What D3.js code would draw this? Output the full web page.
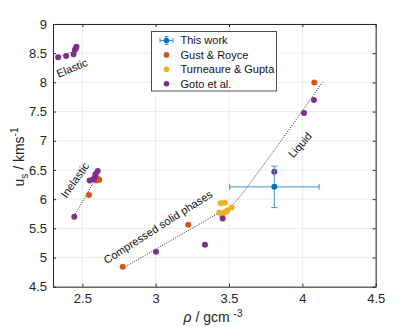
<!DOCTYPE html>
<html><head><meta charset="utf-8">
<script src="https://cdn.jsdelivr.net/npm/d3@7"></script>
<style>body{margin:0;background:#fff;} text{font-family:"Liberation Sans",Arial,sans-serif;}</style>
</head><body><svg id="c" width="415" height="327"></svg>
<script>
// Data
const xTicks = [2.5, 3, 3.5, 4, 4.5];
const yTicks = [4.5, 5, 5.5, 6, 6.5, 7, 7.5, 8, 8.5, 9];
const thisWork = [{rho: 3.809, us: 6.21, rhoErr: 0.305, usErr: 0.355}];
const gustRho = [2.545, 2.595, 2.615, 2.60, 2.775, 3.222, 4.081];
const gustUs  = [6.07, 6.32, 6.33, 6.36, 4.84, 5.56, 8.00];
const turnRho = [3.443, 3.472, 3.434, 3.461, 3.488, 3.518, 3.45, 3.475];
const turnUs  = [5.93, 5.94, 5.77, 5.76, 5.80, 5.855, 5.73, 5.78];
const gotoRho = [2.335, 2.39, 2.44, 2.45, 2.46, 2.455, 2.445, 2.55, 2.575, 2.585, 2.605, 2.59, 3.002, 3.336, 3.457, 3.809, 4.011, 4.079];
const gotoUs  = [8.43, 8.45, 8.48, 8.56, 8.61, 8.58, 5.70, 6.32, 6.34, 6.38, 6.48, 6.43, 5.10, 5.22, 5.667, 6.47, 7.476, 7.70];
const elasticLine = [[2.335, 8.43], [2.46, 8.56]];
const inelasticLine = [[2.445, 5.71], [2.615, 6.46]];
const compressedLine = [[2.778, 4.82], [3.518, 5.89]];
const liquidLine = [[3.518, 5.89], [3.56, 6.0], [3.61, 6.16], [3.66, 6.33], [3.76, 6.67], [4.136, 8.0]];
const legendLabels = ["This work", "Gust & Royce", "Turneaure & Gupta", "Goto et al."];
const colors = ["#0072BD", "#D95319", "#EDB120", "#7E2F8E"];

const svg = d3.select("#c");
const L = 53, R = 375.7, T = 24, B = 286.7;
const x = d3.scaleLinear().domain([2.3, 4.5]).range([L, R]);
const y = d3.scaleLinear().domain([4.5, 9]).range([B, T]);

// grid
const g = svg.append("g");
g.selectAll(".gx").data(xTicks).enter().append("line")
  .attr("x1", d => x(d)).attr("x2", d => x(d)).attr("y1", T).attr("y2", B)
  .attr("stroke", "#ebebeb").attr("stroke-width", 1);
g.selectAll(".gy").data(yTicks).enter().append("line")
  .attr("x1", L).attr("x2", R).attr("y1", d => y(d)).attr("y2", d => y(d))
  .attr("stroke", "#ebebeb").attr("stroke-width", 1);

// axes
const axCol = "#262626";
const fmt = d3.format("");
const ax = [
  svg.append("g").attr("transform", `translate(0,${B})`).call(d3.axisBottom(x).tickValues(xTicks).tickSizeInner(-3).tickSizeOuter(0).tickPadding(7).tickFormat(fmt)),
  svg.append("g").attr("transform", `translate(0,${T})`).call(d3.axisTop(x).tickValues(xTicks).tickSizeInner(-3).tickSizeOuter(0).tickFormat("")),
  svg.append("g").attr("transform", `translate(${L},0)`).call(d3.axisLeft(y).tickValues(yTicks).tickSizeInner(-3).tickSizeOuter(0).tickPadding(6).tickFormat(fmt)),
  svg.append("g").attr("transform", `translate(${R},0)`).call(d3.axisRight(y).tickValues(yTicks).tickSizeInner(-3).tickSizeOuter(0).tickFormat(""))
];
ax.forEach(a => {
  a.select(".domain").attr("stroke", axCol);
  a.selectAll(".tick line").attr("stroke", axCol);
  a.selectAll("text").attr("fill", axCol).style("font-size", "13px").style("font-family", "Liberation Sans, Arial, sans-serif");
});

// dotted fit lines
const line = d3.line().x(d => x(d[0])).y(d => y(d[1]));
const curve = d3.line().x(d => x(d[0])).y(d => y(d[1])).curve(d3.curveMonotoneX);
[[elasticLine, line], [inelasticLine, line], [compressedLine, line], [liquidLine, curve]].forEach(([d, gen]) => {
  svg.append("path").attr("d", gen(d)).attr("fill", "none").attr("stroke", "#222")
    .attr("stroke-width", 1).attr("stroke-dasharray", "1,1.5");
});

// points
const r = 3;
function pts(rhos, uss, col) {
  svg.append("g").selectAll("circle").data(rhos.map((v, i) => [v, uss[i]])).enter().append("circle")
    .attr("cx", d => x(d[0])).attr("cy", d => y(d[1])).attr("r", r).attr("fill", col);
}
pts(gustRho, gustUs, colors[1]);
pts(turnRho, turnUs, colors[2]);
pts(gotoRho, gotoUs, colors[3]);

// this work with error bars
const ebCol = "#3a96d4";
thisWork.forEach(d => {
  const eg = svg.append("g").attr("stroke", ebCol).attr("stroke-width", 1);
  eg.append("line").attr("x1", x(d.rho - d.rhoErr)).attr("x2", x(d.rho + d.rhoErr)).attr("y1", y(d.us)).attr("y2", y(d.us));
  eg.append("line").attr("x1", x(d.rho)).attr("x2", x(d.rho)).attr("y1", y(d.us - d.usErr)).attr("y2", y(d.us + d.usErr));
  [d.rho - d.rhoErr, d.rho + d.rhoErr].forEach(v => eg.append("line").attr("x1", x(v)).attr("x2", x(v)).attr("y1", y(d.us) - 3).attr("y2", y(d.us) + 3));
  [d.us - d.usErr, d.us + d.usErr].forEach(v => eg.append("line").attr("y1", y(v)).attr("y2", y(v)).attr("x1", x(d.rho) - 3).attr("x2", x(d.rho) + 3));
  svg.append("circle").attr("cx", x(d.rho)).attr("cy", y(d.us)).attr("r", r).attr("fill", colors[0]);
});

// region labels
const labs = [["Elastic", 72, 68, -22], ["Inelastic", 75, 180, -55], ["Compressed solid phases", 158, 227, -32.5], ["Liquid", 300, 145, -49]];
labs.forEach(([t, cx, cy, a]) => {
  svg.append("text").attr("transform", `translate(${cx},${cy}) rotate(${a})`).attr("text-anchor", "middle")
    .attr("dy", "0.35em").style("font-size", "11px").attr("fill", "#111").text(t);
});

// legend
const lg = svg.append("g");
lg.append("rect").attr("x", 151.5).attr("y", 31.5).attr("width", 125).attr("height", 59.5)
  .attr("fill", "#fff").attr("stroke", "#262626").attr("stroke-width", 0.8);
legendLabels.forEach((t, i) => {
  const ly = 40.5 + i * 14.4;
  if (i === 0) {
    const eg = lg.append("g").attr("stroke", ebCol).attr("stroke-width", 1);
    eg.append("line").attr("x1", 160).attr("x2", 173).attr("y1", ly).attr("y2", ly);
    eg.append("line").attr("x1", 166.5).attr("x2", 166.5).attr("y1", ly - 4).attr("y2", ly + 4);
    eg.append("line").attr("x1", 160).attr("x2", 160).attr("y1", ly - 2.5).attr("y2", ly + 2.5);
    eg.append("line").attr("x1", 173).attr("x2", 173).attr("y1", ly - 2.5).attr("y2", ly + 2.5);
    eg.append("line").attr("x1", 164.5).attr("x2", 168.5).attr("y1", ly - 4).attr("y2", ly - 4);
    eg.append("line").attr("x1", 164.5).attr("x2", 168.5).attr("y1", ly + 4).attr("y2", ly + 4);
  }
  lg.append("circle").attr("cx", 166.5).attr("cy", ly).attr("r", 2.8).attr("fill", colors[i]);
  lg.append("text").attr("x", 180.5).attr("y", ly).attr("dy", "0.35em").style("font-size", "11px").attr("fill", "#111").text(t);
});

// axis labels
const yl = svg.append("text").attr("transform", "translate(24,157) rotate(-90)").attr("text-anchor", "middle")
  .style("font-size", "14px").attr("fill", axCol);
yl.append("tspan").text("u");
yl.append("tspan").attr("dy", 4).style("font-size", "10px").text("s");
yl.append("tspan").attr("dy", -4).text(" / kms");
yl.append("tspan").attr("dy", -6).style("font-size", "10px").text("-1");

const xl = svg.append("text").attr("x", 213).attr("y", 322).attr("text-anchor", "middle")
  .style("font-size", "14px").attr("fill", axCol);
xl.append("tspan").style("font-style", "italic").text("ρ");
xl.append("tspan").text(" / gcm ");
xl.append("tspan").attr("dy", -5).style("font-size", "10px").text("-3");
</script></body></html>
